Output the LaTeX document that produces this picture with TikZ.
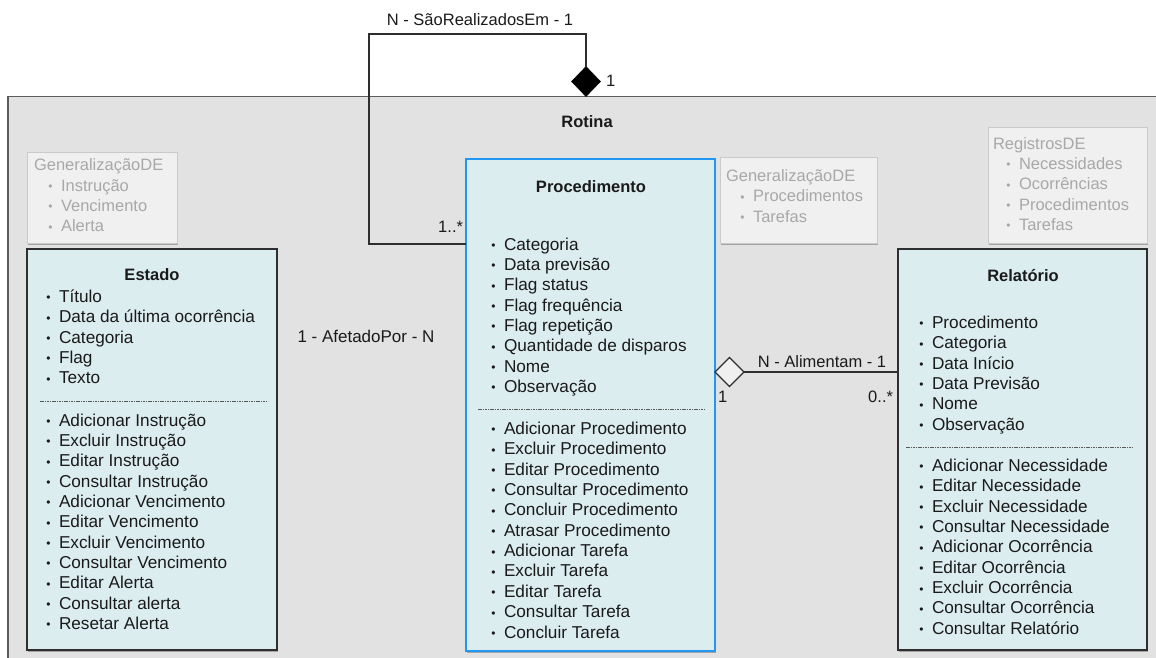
\documentclass[tikz,border=0pt]{standalone}
\usepackage{fontspec}
\setmainfont{Liberation Sans}
\usetikzlibrary{shapes.geometric,shadows}

\definecolor{framefill}{HTML}{E2E2E2}
\definecolor{frameline}{HTML}{5C5C5C}
\definecolor{classfill}{HTML}{DCEDF0}
\definecolor{classline}{HTML}{2E2E2E}
\definecolor{selblue}{HTML}{2196F3}
\definecolor{notefill}{HTML}{F0F0F0}
\definecolor{noteline}{HTML}{CACACA}
\definecolor{notetext}{HTML}{A8A8A8}
\definecolor{inktext}{HTML}{1A1A1A}

\tikzset{
  every node/.style={font=\fontsize{16.5}{20}\selectfont, inner sep=0pt, outer sep=0pt, text=inktext},
  softshadow/.style={drop shadow={shadow xshift=1.2pt, shadow yshift=-1.8pt, opacity=0.28, fill=black}},
  framebox/.style={draw=frameline, line width=1.3pt, fill=framefill, anchor=north west},
  classbox/.style={draw=classline, line width=1.3pt, fill=classfill, anchor=north west, softshadow},
  selbox/.style={draw=selblue, line width=2.6pt, fill=classfill, anchor=north west, softshadow},
  notebox/.style={draw=noteline, line width=0.9pt, fill=notefill, anchor=north west, softshadow},
  classtitle/.style={font=\fontsize{16.5}{20}\selectfont\bfseries},
  entry/.style={anchor=west, font=\fontsize{17.2}{20}\selectfont, text height=12.5pt, text depth=3.5pt},
  noteentry/.style={anchor=west, text height=12.5pt, text depth=3.5pt, text=notetext},
  assoc/.style={anchor=center, text height=12.5pt, text depth=3.5pt},
  sep/.style={draw=classline!80, line width=0.6pt, dash pattern=on 1.6pt off 0.8pt},
  wire/.style={draw=classline, line width=1.3pt},
  filleddia/.style={diamond, fill=black, draw=black, line width=0.5pt, minimum width=29pt, minimum height=30pt},
  hollowdia/.style={diamond, fill=notefill, draw=classline, line width=1.2pt, minimum width=29pt, minimum height=29pt},
}

% a bulleted list of rows, one node per row: prefix, text x, first row y, rows
\newcommand\bulletrows[5][entry]{%
  \foreach \t [count=\i] in {#5} {
    \node[#1] (#2\i) at (#3, #4+20.35*\i-20.35)
      {\llap{\fontsize{12}{12}\selectfont\raisebox{0.6pt}{•}\hspace{8.5pt}}\t};
  }%
}

\begin{document}
\begin{tikzpicture}[x=1pt, y=-1pt]
\useasboundingbox (0,0) rectangle (1156,657);

% the enclosing Rotina frame runs past the right and bottom edges
\begin{scope}
  \clip (0,0) rectangle (1156,657);
  \node[framebox, minimum width=1180pt, minimum height=600pt] (rotina) at (8,96.5) {};
\end{scope}
\node[classtitle] (rotinatitle) at (587,122) {Rotina};

% generalization / register notes
\node[notebox, minimum width=150pt, minimum height=91pt] (noteestado) at (27,152) {};
\node[noteentry] (noteestadohead) at (34,166) {GeneralizaçãoDE};
\bulletrows[noteentry]{ne}{61}{186.5}{Instrução,Vencimento,Alerta}

\node[notebox, minimum width=157pt, minimum height=86pt] (noteproc) at (720,157) {};
\node[noteentry] (noteprochead) at (726,177) {GeneralizaçãoDE};
\bulletrows[noteentry]{np}{753}{197.3}{Procedimentos,Tarefas}

\node[notebox, minimum width=159pt, minimum height=116pt] (noterel) at (988,127) {};
\node[noteentry] (noterelhead) at (993,145) {RegistrosDE};
\bulletrows[noteentry]{nr}{1019}{165}{Necessidades,Ocorrências,Procedimentos,Tarefas}

% Estado
\node[classbox, minimum width=250pt, minimum height=401pt] (estado) at (27,249) {};
\node[classtitle] (estadotitle) at (152,275) {Estado};
\bulletrows{ea}{59}{298}{Título,Data da última ocorrência,Categoria,Flag,Texto}
\draw[sep] ([xshift=13pt]estado.west |- 0,401) -- ([xshift=-9pt]estado.east |- 0,401);
\bulletrows{em}{59}{421.5}{Adicionar Instrução,Excluir Instrução,Editar Instrução,Consultar Instrução,Adicionar Vencimento,Editar Vencimento,Excluir Vencimento,Consultar Vencimento,Editar Alerta,Consultar alerta,Resetar Alerta}

% Procedimento
\node[selbox, minimum width=249pt, minimum height=492pt] (proc) at (466,159) {};
\node[classtitle] (proctitle) at (591,187) {Procedimento};
\bulletrows{pa}{504}{245.5}{Categoria,Data previsão,Flag status,Flag frequência,Flag repetição,Quantidade de disparos,Nome,Observação}
\draw[sep] ([xshift=12pt]proc.west |- 0,409) -- ([xshift=-11pt]proc.east |- 0,409);
\bulletrows{pm}{504}{430}{Adicionar Procedimento,Excluir Procedimento,Editar Procedimento,Consultar Procedimento,Concluir Procedimento,Atrasar Procedimento,Adicionar Tarefa,Excluir Tarefa,Editar Tarefa,Consultar Tarefa,Concluir Tarefa}

% Relatório
\node[classbox, minimum width=249pt, minimum height=401pt] (rel) at (898,249) {};
\node[classtitle] (reltitle) at (1023,276) {Relatório};
\bulletrows{ra}{932}{324}{Procedimento,Categoria,Data Início,Data Previsão,Nome,Observação}
\draw[sep] ([xshift=8pt]rel.west |- 0,447) -- ([xshift=-14pt]rel.east |- 0,447);
\bulletrows{rm}{932}{467}{Adicionar Necessidade,Editar Necessidade,Excluir Necessidade,Consultar Necessidade,Adicionar Ocorrência,Editar Ocorrência,Excluir Ocorrência,Consultar Ocorrência,Consultar Relatório}

% composition: Procedimento -- Rotina
\node[filleddia, anchor=south] (comp) at (586,96.5) {};
\draw[wire] (comp.north) |- (369,34) |- (proc.west |- 0,244);
\node[assoc] (compname) at (480,21) {N - SãoRealizadosEm - 1};
\node[assoc, anchor=west] (compone) at (606,82) {1};
\node[assoc, anchor=east] (compmany) at (463,228) {1..*};

% aggregation: Relatório -- Procedimento
\node[hollowdia, anchor=west] (agg) at (proc.east |- 0,372) {};
\draw[wire] (agg.east) -- (rel.west |- agg.east);
\node[assoc] (aggname) at (822,363) {N - Alimentam - 1};
\node[assoc, anchor=west] (aggone) at (718,398) {1};
\node[assoc, anchor=east] (aggmany) at (893,398) {0..*};

% Estado -- Procedimento
\node[assoc, font=\fontsize{17}{20}\selectfont] (affname) at (366,338) {1 - AfetadoPor - N};
\end{tikzpicture}
\end{document}
